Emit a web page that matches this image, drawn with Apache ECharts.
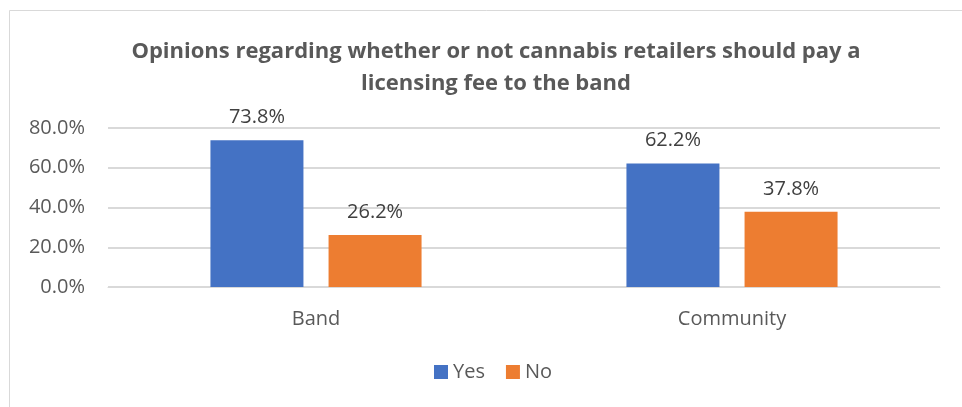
<!DOCTYPE html>
<html>
<head>
<meta charset="utf-8">
<script src="https://cdn.jsdelivr.net/npm/echarts@6/dist/echarts.min.js"></script>
<style>
  html, body { margin: 0; padding: 0; background: #fff; }
  #chart { width: 962px; height: 407px; }
</style>
</head>
<body>
<div id="chart"></div>
<script>
// Survey groups and the share of each answer (percent)
const categories = ['Band', 'Community'];
const yesValues = [73.8, 62.2];
const noValues = [26.2, 37.8];
const seriesNames = ['Yes', 'No'];
const titleText = 'Opinions regarding whether or not cannabis retailers should pay a\nlicensing fee to the band';

const FONT = '"Open Sans", "Liberation Sans", sans-serif';
const TEXT = '#595959';
const GRID = '#d9d9d9';

const chart = echarts.init(document.getElementById('chart'), null, { renderer: 'canvas' });

const labelStyle = {
  show: true,
  position: 'top',
  distance: 13,
  color: '#404040',
  fontFamily: FONT,
  fontSize: 20,
  formatter: p => p.value.toFixed(1) + '%'
};

chart.setOption({
  backgroundColor: '#fff',
  animation: false,
  graphic: [{
    type: 'rect',
    shape: { x: 9.5, y: 10.5, width: 1100, height: 600 },
    style: { fill: 'none', stroke: GRID, lineWidth: 1 },
    silent: true,
    z: -1
  }],
  title: {
    text: titleText,
    left: 491,
    textAlign: 'center',
    top: 31,
    textStyle: {
      fontFamily: FONT,
      fontWeight: 'bold',
      fontSize: 22,
      color: TEXT,
      lineHeight: 32
    }
  },
  legend: {
    data: seriesNames,
    left: 434,
    top: 362,
    padding: 0,
    itemWidth: 14,
    itemHeight: 14,
    itemGap: 21,
    icon: 'rect',
    textStyle: { fontFamily: FONT, fontSize: 20, color: TEXT }
  },
  grid: { left: 108, right: 22, top: 128, bottom: 120, containLabel: false },
  xAxis: {
    type: 'category',
    data: categories,
    axisLine: { lineStyle: { color: GRID, width: 1 } },
    axisTick: { show: false },
    axisLabel: { fontFamily: FONT, fontSize: 20, color: TEXT, margin: 22 }
  },
  yAxis: {
    type: 'value',
    min: 0,
    max: 80,
    interval: 20,
    axisLine: { show: false },
    axisTick: { show: false },
    splitLine: { lineStyle: { color: GRID, width: 2 } },
    axisLabel: {
      fontFamily: FONT, fontSize: 20, color: TEXT, margin: 23,
      formatter: v => v.toFixed(1) + '%'
    }
  },
  series: [
    {
      name: seriesNames[0],
      type: 'bar',
      data: yesValues,
      barWidth: 93,
      barGap: '27%',
      itemStyle: { color: '#4472c4' },
      label: labelStyle
    },
    {
      name: seriesNames[1],
      type: 'bar',
      data: noValues,
      barWidth: 93,
      itemStyle: { color: '#ed7d31' },
      label: labelStyle
    }
  ]
});
</script>
</body>
</html>
